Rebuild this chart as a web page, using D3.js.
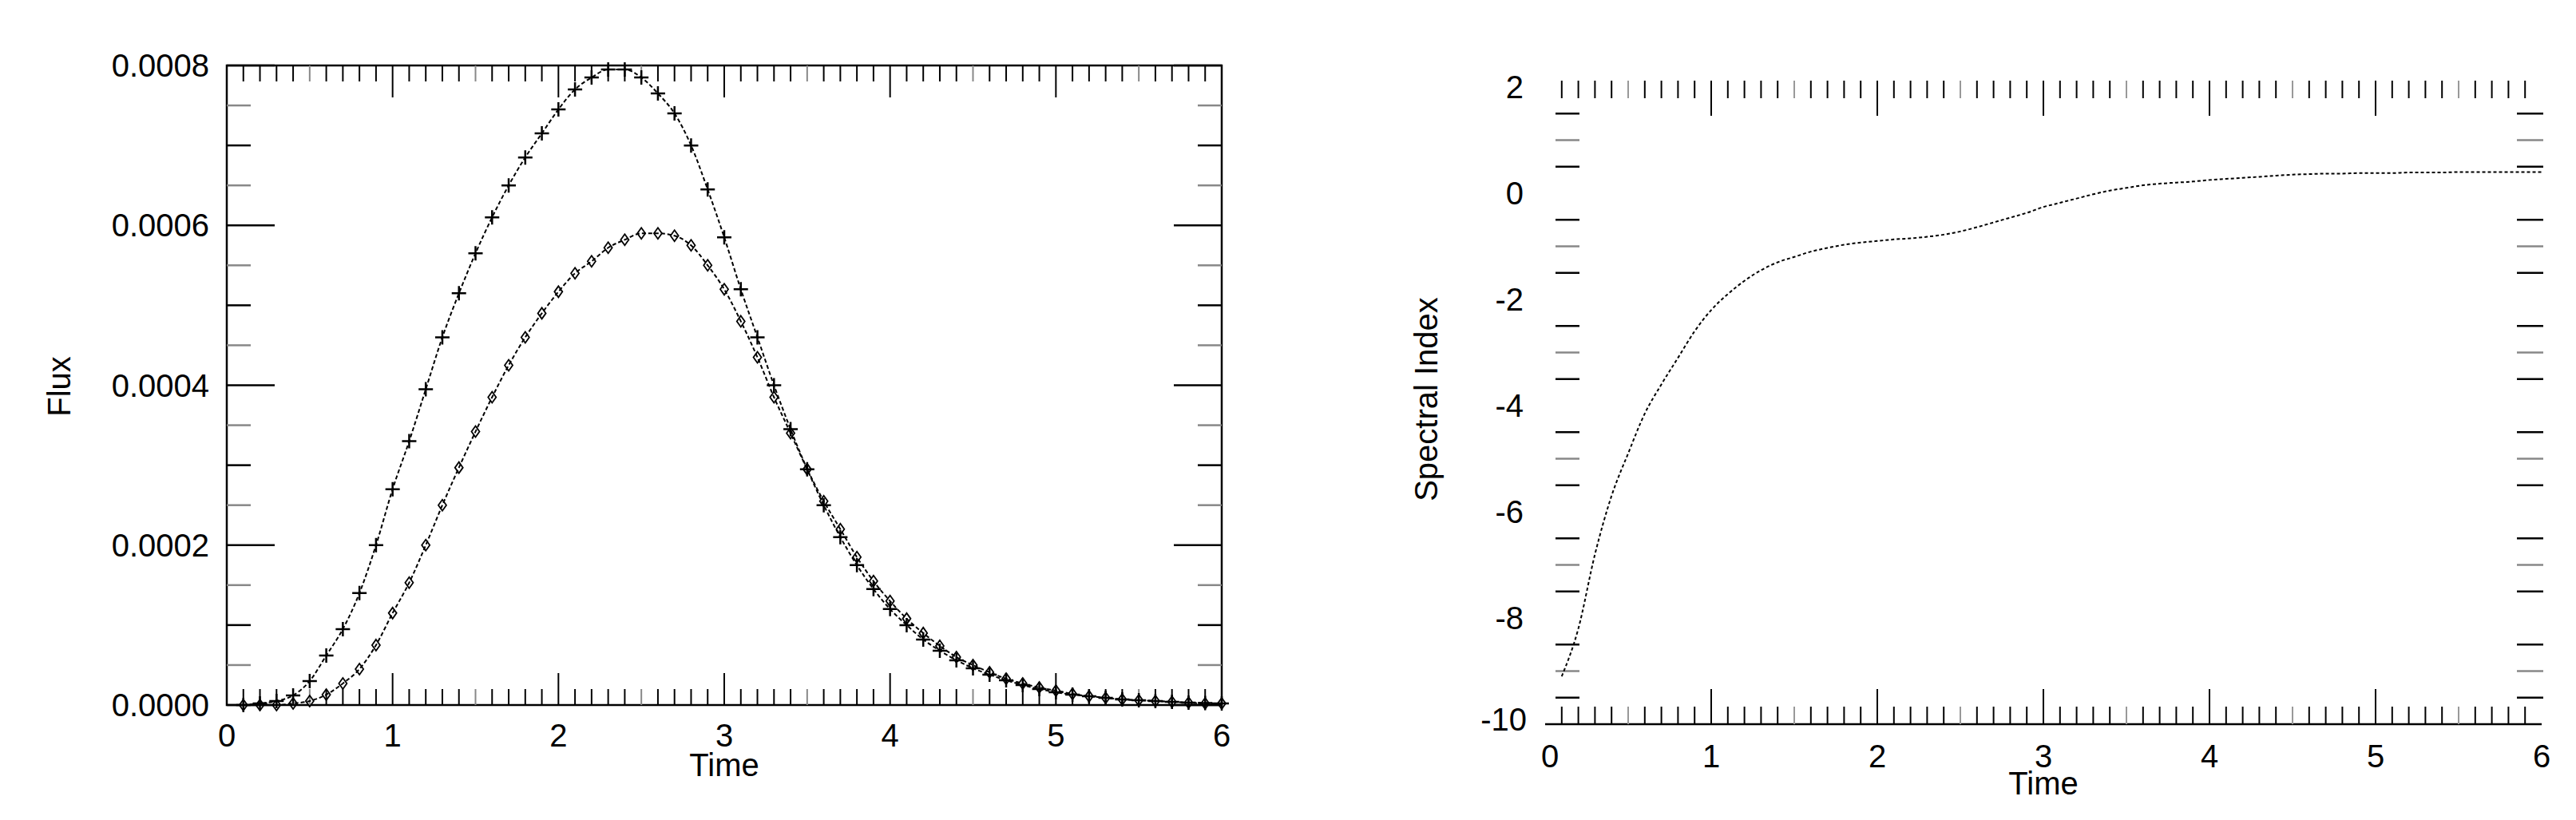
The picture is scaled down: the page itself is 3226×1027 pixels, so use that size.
<!DOCTYPE html><html><head><meta charset="utf-8"><script src="https://cdn.jsdelivr.net/npm/d3@7"></script>
<style>body{margin:0;background:#fff}text{font-family:"Liberation Sans",Arial,sans-serif;fill:#000}</style></head><body>
<svg id="c" width="3226" height="1027"></svg>
<script>
const times=d3.range(1,61).map(i=>i/10);
const fluxPlus=[0,0.02,0.05,0.12,0.3,0.62,0.95,1.4,2.0,2.7,3.3,3.95,4.6,5.15,5.65,6.1,6.5,6.85,7.15,7.45,7.7,7.85,7.95,7.95,7.85,7.65,7.4,7.0,6.45,5.85,5.2,4.6,4.0,3.45,2.95,2.5,2.1,1.75,1.45,1.2,1.0,0.82,0.68,0.56,0.46,0.38,0.31,0.25,0.2,0.16,0.13,0.11,0.09,0.07,0.06,0.05,0.04,0.03,0.025,0.02];
const fluxDiamond=[0,0,0,0.02,0.05,0.13,0.27,0.45,0.75,1.15,1.53,2.0,2.5,2.97,3.42,3.85,4.25,4.6,4.9,5.17,5.4,5.55,5.72,5.82,5.9,5.9,5.87,5.75,5.5,5.2,4.8,4.35,3.85,3.4,2.95,2.55,2.2,1.85,1.55,1.3,1.08,0.9,0.74,0.6,0.5,0.41,0.33,0.27,0.22,0.18,0.14,0.11,0.09,0.07,0.06,0.05,0.04,0.03,0.02,0.02];
const specIndex=[-9.1,-8.2,-6.8,-5.7,-4.9,-4.15,-3.6,-3.1,-2.6,-2.2,-1.9,-1.65,-1.45,-1.3,-1.2,-1.1,-1.03,-0.97,-0.93,-0.9,-0.87,-0.85,-0.82,-0.78,-0.72,-0.64,-0.55,-0.46,-0.37,-0.26,-0.18,-0.1,-0.02,0.05,0.1,0.15,0.18,0.2,0.22,0.25,0.27,0.29,0.31,0.33,0.35,0.36,0.37,0.37,0.38,0.38,0.38,0.39,0.39,0.39,0.4,0.4,0.4,0.4,0.4,0.4];
const xTicks=[0,1,2,3,4,5,6];
const fluxTicks=[0,0.0002,0.0004,0.0006,0.0008];
const fluxTickLabels=["0.0000","0.0002","0.0004","0.0006","0.0008"];
const specTicks=[-10,-8,-6,-4,-2,0,2];
const svg=d3.select("#c");
const F=40;
// LEFT
{
const x=d3.scaleLinear([0,6],[284,1530]), y=d3.scaleLinear([0,0.0008],[883,82]);
const g=svg.append("g");
g.append("rect").attr("x",284).attr("y",82).attr("width",1246).attr("height",801).attr("fill","none").attr("stroke","#000").attr("stroke-width",2.5);
d3.range(0,61).forEach(i=>{const v=i/10,maj=i%10==0,L=maj?40:20;
 [[883,-1],[82,1]].forEach(([b,s])=>g.append("line").attr("x1",x(v)).attr("x2",x(v)).attr("y1",b).attr("y2",b+s*L).attr("stroke",i%5==0&&!maj?"#888":"#000").attr("stroke-width",2));});
d3.range(0,17).forEach(i=>{const v=i*0.00005,maj=i%4==0,L=maj?60:30;
 [[284,1],[1530,-1]].forEach(([b,s])=>g.append("line").attr("y1",y(v)).attr("y2",y(v)).attr("x1",b).attr("x2",b+s*L).attr("stroke",i%2==1?"#888":"#000").attr("stroke-width",2.5));});
xTicks.forEach(v=>g.append("text").attr("x",x(v)).attr("y",y(0)+52).attr("text-anchor","middle").attr("font-size",F).text(v));
fluxTicks.forEach((v,i)=>g.append("text").attr("x",262).attr("y",y(v)+14).attr("text-anchor","end").attr("font-size",F).text(fluxTickLabels[i]));
g.append("text").attr("x",x(3)).attr("y",972).attr("text-anchor","middle").attr("font-size",F).text("Time");
g.append("text").attr("transform","translate(88,484) rotate(-90)").attr("text-anchor","middle").attr("font-size",F).text("Flux");
const line=d3.line().curve(d3.curveMonotoneX).x((d,i)=>x(times[i])).y(d=>y(d*1e-4));
g.append("path").attr("d",line(fluxPlus)).attr("fill","none").attr("stroke","#000").attr("stroke-width",2).attr("stroke-dasharray","5,3");
g.append("path").attr("d",line(fluxDiamond)).attr("fill","none").attr("stroke","#000").attr("stroke-width",2).attr("stroke-dasharray","5,3");
fluxPlus.forEach((d,i)=>{const cx=x(times[i]),cy=y(d*1e-4);g.append("path").attr("d",`M${cx-9},${cy}H${cx+9}M${cx},${cy-9}V${cy+9}`).attr("stroke","#000").attr("stroke-width",2.5);});
fluxDiamond.forEach((d,i)=>{const cx=x(times[i]),cy=y(d*1e-4);g.append("path").attr("d",`M${cx},${cy-7}L${cx+5},${cy}L${cx},${cy+7}L${cx-5},${cy}Z`).attr("fill","none").attr("stroke","#000").attr("stroke-width",1.8);});
}
// RIGHT
{
const x=d3.scaleLinear([0,6],[1935,3183]), y=d3.scaleLinear([-10,2],[907,109]);
const g=svg.append("g");
g.append("line").attr("x1",1935).attr("x2",3183).attr("y1",907).attr("y2",907).attr("stroke","#000").attr("stroke-width",2.5);
d3.range(1,60).forEach(i=>{const v=i/10,maj=i%10==0,L=maj?44:22;
 g.append("line").attr("x1",x(v)).attr("x2",x(v)).attr("y1",907).attr("y2",907-L).attr("stroke",i%5==0&&!maj?"#999":"#000").attr("stroke-width",2);
 g.append("line").attr("x1",x(v)).attr("x2",x(v)).attr("y1",y(2)-8).attr("y2",y(2)-8+L).attr("stroke",i%5==0&&!maj?"#999":"#000").attr("stroke-width",2);});
d3.range(-19,4).forEach(i=>{const v=i/2; if(v==-10||v==2||(Number.isInteger(v)&&v%2==0))return;
 g.append("line").attr("y1",y(v)).attr("y2",y(v)).attr("x1",1948).attr("x2",1978).attr("stroke",Number.isInteger(v)?"#888":"#000").attr("stroke-width",2.5);
 g.append("line").attr("y1",y(v)).attr("y2",y(v)).attr("x1",3152).attr("x2",3185).attr("stroke",Number.isInteger(v)?"#888":"#000").attr("stroke-width",2.5);});
xTicks.forEach(v=>g.append("text").attr("x",x(v)+(v==0?6:0)).attr("y",y(-10)+54).attr("text-anchor","middle").attr("font-size",F).text(v));
specTicks.forEach(v=>g.append("text").attr("x",v==-10?1912:1908).attr("y",y(v)+(v==-10?8:14)).attr("text-anchor","end").attr("font-size",F).text(v));
g.append("text").attr("x",x(3)).attr("y",995).attr("text-anchor","middle").attr("font-size",F).text("Time");
g.append("text").attr("transform","translate(1800,500) rotate(-90)").attr("text-anchor","middle").attr("font-size",F).text("Spectral Index");
const line=d3.line().curve(d3.curveMonotoneX).x((d,i)=>x(times[i])).y(d=>y(d));
g.append("path").attr("d",line(specIndex)).attr("fill","none").attr("stroke","#000").attr("stroke-width",2).attr("stroke-dasharray","4,3");
}
</script></body></html>
